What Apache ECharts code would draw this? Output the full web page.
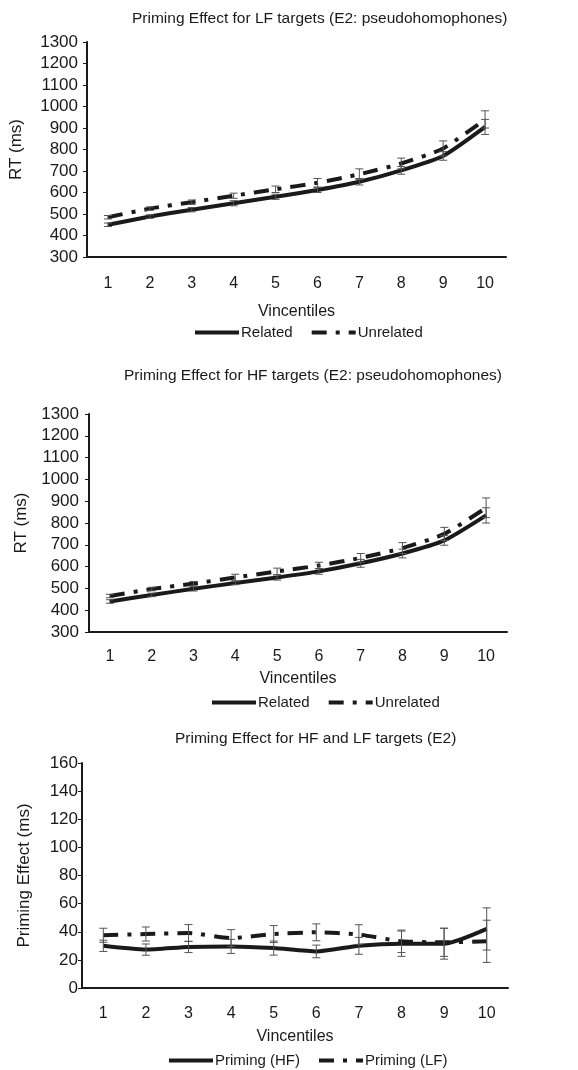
<!DOCTYPE html>
<html>
<head>
<meta charset="utf-8">
<script src="https://cdn.jsdelivr.net/npm/echarts@6/dist/echarts.min.js"></script>
<style>
  html, body { margin: 0; padding: 0; background: #fff; }
  #chart { width: 578px; height: 1070px; }
</style>
</head>
<body>
<div id="chart"></div>
<script>
// vincentile categories
const vincentiles = ['1', '2', '3', '4', '5', '6', '7', '8', '9', '10']

// LF targets (E2: pseudohomophones)
const lfRelated = [450, 488, 520, 550, 580, 612, 650, 703, 770, 905]
const lfRelatedErr = [8, 8, 10, 12, 12, 12, 15, 18, 20, 35]
const lfUnrelated = [485, 525, 555, 585, 615, 645, 685, 735, 805, 940]
const lfUnrelatedErr = [8, 8, 10, 12, 15, 20, 25, 25, 35, 40]

// HF targets (E2: pseudohomophones)
const hfRelated = [440, 470, 498, 525, 550, 578, 615, 660, 720, 835]
const hfRelatedErr = [8, 8, 10, 8, 12, 13, 18, 20, 22, 35]
const hfUnrelated = [465, 497, 522, 550, 578, 605, 640, 685, 750, 870]
const hfUnrelatedErr = [8, 8, 10, 15, 15, 15, 20, 25, 30, 45]

// priming effect (ms)
const primingHF = [30, 27.3, 29.2, 29.6, 28.4, 26, 30, 31.5, 31.5, 42]
const primingHFErr = [4, 4, 4, 5, 5, 4.5, 6, 9, 11, 15]
const primingLF = [37.5, 38.4, 39.1, 35.5, 38.4, 39.6, 38, 33.2, 32.5, 33.2]
const primingLFErr = [5, 5, 6, 6, 6, 6, 7, 8, 10, 15]

const FONT = 'Liberation Sans, Arial, sans-serif'
const INK = '#1a1a1a'
const DASH_DOT = [15, 9, 4, 9]

function errData (values, errs) {
  return values.map((v, i) => [i, v - errs[i], v + errs[i]])
}

function renderErr (params, api) {
  let lo = api.coord([api.value(0), api.value(1)])
  let hi = api.coord([api.value(0), api.value(2)])
  let x = lo[0]
  let w = 4
  let style = { stroke: '#555', lineWidth: 1, fill: null }
  return {
    type: 'group',
    children: [
      { type: 'line', shape: { x1: x, y1: lo[1], x2: x, y2: hi[1] }, style: style },
      { type: 'line', shape: { x1: x - w, y1: hi[1], x2: x + w, y2: hi[1] }, style: style },
      { type: 'line', shape: { x1: x - w, y1: lo[1], x2: x + w, y2: lo[1] }, style: style }
    ]
  }
}

function lineSeries (name, idx, data, dashed) {
  return {
    name: name,
    type: 'line',
    xAxisIndex: idx,
    yAxisIndex: idx,
    data: data,
    smooth: 0.2,
    symbol: 'none',
    z: 3,
    lineStyle: { color: INK, width: 4, type: dashed ? DASH_DOT : 'solid' },
    itemStyle: { color: INK }
  }
}

function errSeries (idx, data) {
  return {
    type: 'custom',
    xAxisIndex: idx,
    yAxisIndex: idx,
    data: data,
    renderItem: renderErr,
    encode: { x: 0, y: [1, 2] },
    z: 4,
    silent: true
  }
}

function xAxis (idx, margin, nameGap) {
  return {
    type: 'category',
    gridIndex: idx,
    data: vincentiles,
    name: 'Vincentiles',
    nameLocation: 'middle',
    nameGap: nameGap,
    nameTextStyle: { fontFamily: FONT, fontSize: 16, color: INK },
    axisLine: { lineStyle: { color: INK, width: 2 } },
    axisTick: { length: 5, lineStyle: { color: INK, width: 1 } },
    axisLabel: { fontFamily: FONT, fontSize: 16, color: INK, margin: margin }
  }
}

function yAxis (idx, min, max, interval, name, nameGap, margin) {
  return {
    type: 'value',
    gridIndex: idx,
    min: min,
    max: max,
    interval: interval,
    name: name,
    nameLocation: 'middle',
    nameGap: nameGap,
    nameTextStyle: { fontFamily: FONT, fontSize: 17, color: INK },
    axisLine: { show: true, lineStyle: { color: INK, width: 2 } },
    axisTick: { show: true, length: 4, lineStyle: { color: INK, width: 1 } },
    axisLabel: { fontFamily: FONT, fontSize: 17, color: INK, margin: margin, formatter: v => String(v) },
    splitLine: { show: false }
  }
}

function legend (left, top, names) {
  return {
    left: left,
    top: top,
    padding: 0,
    data: names,
    itemWidth: 44,
    itemHeight: 14,
    itemGap: 17,
    selectedMode: false,
    itemStyle: { opacity: 0 },
    lineStyle: { width: 4 },
    textStyle: { fontFamily: FONT, fontSize: 15, color: INK, padding: [0, 0, 0, -3] }
  }
}

function title (text, left, top) {
  return { text: text, left: left, top: top, padding: 0, textStyle: { fontFamily: FONT, fontSize: 15.5, fontWeight: 'normal', color: INK } }
}

let myChart = echarts.init(document.getElementById('chart'))
myChart.setOption({
  animation: false,
  backgroundColor: '#fff',
  title: [
    title('Priming Effect for LF targets (E2: pseudohomophones)', 132, 11),
    title('Priming Effect for HF targets (E2: pseudohomophones)', 124, 368),
    title('Priming Effect for HF and LF targets (E2)', 175, 731)
  ],
  legend: [
    legend(193, 325, ['Related', 'Unrelated']),
    legend(210, 695, ['Related', 'Unrelated']),
    legend(167, 1053, ['Priming (HF)', 'Priming (LF)'])
  ],
  grid: [
    { left: 87, top: 42, width: 419, height: 215 },
    { left: 89, top: 414, width: 418, height: 218 },
    { left: 82, top: 763, width: 426, height: 225 }
  ],
  xAxis: [xAxis(0, 19, 47), xAxis(1, 17, 39), xAxis(2, 18, 41)],
  yAxis: [
    yAxis(0, 300, 1300, 100, 'RT (ms)', 62, 9),
    yAxis(1, 300, 1300, 100, 'RT (ms)', 56, 10),
    yAxis(2, 0, 160, 20, 'Priming Effect (ms)', 49, 4)
  ],
  series: [
    lineSeries('Related', 0, lfRelated, false),
    lineSeries('Unrelated', 0, lfUnrelated, true),
    errSeries(0, errData(lfRelated, lfRelatedErr)),
    errSeries(0, errData(lfUnrelated, lfUnrelatedErr)),
    lineSeries('Related', 1, hfRelated, false),
    lineSeries('Unrelated', 1, hfUnrelated, true),
    errSeries(1, errData(hfRelated, hfRelatedErr)),
    errSeries(1, errData(hfUnrelated, hfUnrelatedErr)),
    lineSeries('Priming (HF)', 2, primingHF, false),
    lineSeries('Priming (LF)', 2, primingLF, true),
    errSeries(2, errData(primingHF, primingHFErr)),
    errSeries(2, errData(primingLF, primingLFErr))
  ]
})
</script>
</body>
</html>
